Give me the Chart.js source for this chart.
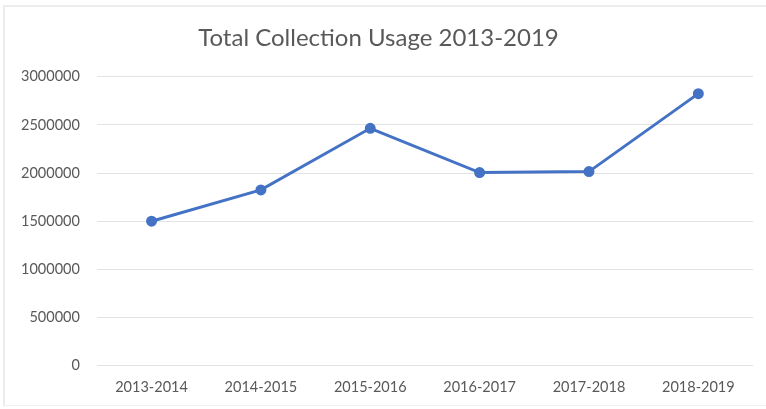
<!DOCTYPE html>
<html>
<head>
<meta charset="utf-8">
<script src="https://cdn.jsdelivr.net/npm/chart.js@4"></script>
<style>
    html, body { margin: 0; padding: 0; background: #ffffff; }
    #frame {
        position: absolute;
        left: 3px; top: 5px;
        width: 763px; height: 398px;
        border-left: 2px solid #ececec;
        border-top: 2px solid #ececec;
        border-bottom: 1px solid #f0f0f0;
    }
    #wrap { position: absolute; left: 0; top: 0; width: 766px; height: 409px; }
</style>
</head>
<body>
<div id="frame"></div>
<div id="wrap"><canvas id="usageChart"></canvas></div>
<script>
// Données
const seasons = ['2013-2014', '2014-2015', '2015-2016', '2016-2017', '2017-2018', '2018-2019'];
const usage = [1500000, 1825000, 2465000, 2005000, 2015000, 2825000];
const yTicks = [0, 500000, 1000000, 1500000, 2000000, 2500000, 3000000];

const textColor = '#595959';
const fontFamily = 'Lato, "Open Sans", sans-serif';

document.addEventListener('DOMContentLoaded', function () {
    initializeUsageChart();
});

/**
 * Graphique d'utilisation totale de la collection
 */
function initializeUsageChart() {
    const ctx = document.getElementById('usageChart').getContext('2d');
    new Chart(ctx, {
        type: 'line',
        data: {
            labels: seasons,
            datasets: [{
                label: 'Total',
                data: usage,
                borderColor: '#4472C4',
                backgroundColor: '#4472C4',
                borderWidth: 3,
                pointRadius: 4,
                pointHoverRadius: 4,
                tension: 0
            }]
        },
        options: {
            responsive: true,
            maintainAspectRatio: false,
            animation: false,
            layout: {
                padding: { left: 4, right: 13, top: 24, bottom: 0 }
            },
            plugins: {
                legend: { display: false },
                tooltip: { enabled: false },
                title: {
                    display: true,
                    text: 'Total Collection Usage 2013-2019',
                    color: textColor,
                    font: { family: fontFamily, size: 24, weight: 'normal' },
                    padding: { top: 0, bottom: 24 }
                }
            },
            scales: {
                x: {
                    offset: true,
                    grid: { display: false, drawTicks: false },
                    border: { display: false },
                    ticks: {
                        color: textColor,
                        font: { family: fontFamily, size: 14.5 },
                        padding: 13,
                        maxRotation: 0
                    }
                },
                y: {
                    min: 0,
                    max: 3000000,
                    afterBuildTicks: function (axis) {
                        axis.ticks = yTicks.map(v => ({ value: v }));
                    },
                    grid: { color: '#e3e3e3', lineWidth: 1, drawTicks: false },
                    border: { display: false },
                    ticks: {
                        color: textColor,
                        font: { family: fontFamily, size: 14.5 },
                        padding: 17,
                        callback: v => String(v)
                    }
                }
            }
        }
    });
}
</script>
</body>
</html>
